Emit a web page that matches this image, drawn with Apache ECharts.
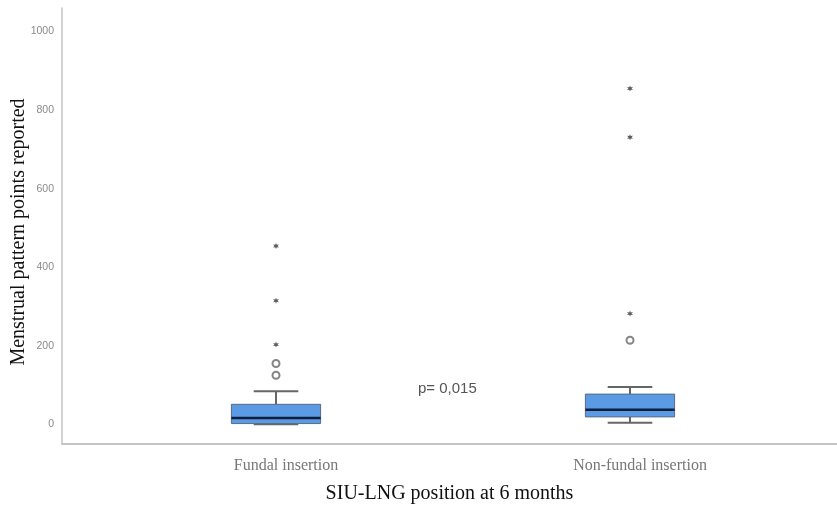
<!DOCTYPE html>
<html>
<head>
<meta charset="utf-8">
<script src="https://cdn.jsdelivr.net/npm/echarts@6/dist/echarts.min.js"></script>
<style>html,body{margin:0;padding:0;background:#fff;}#c{width:837px;height:508px;}</style>
</head>
<body>
<div id="c"></div>
<script>
// ---- data ----
const categories = ['Fundal insertion', 'Non-fundal insertion'];
// [low whisker, Q1, median, Q3, high whisker]
const fundalBox = [0, 2, 16, 51, 84];
const nonFundalBox = [4, 19, 37, 77, 95];
// outliers: circles (mild) and stars (extreme)
const fundalCircles = [125, 155];
const fundalStars = [203, 315, 454];
const nonFundalCircles = [214];
const nonFundalStars = [282, 731, 855];
const yTickLabels = [0, 200, 400, 600, 800, 1000];
const pValueText = 'p= 0,015';

// star symbol path
function starPath(n, r1, r2) {
  let d = '';
  for (let i = 0; i < n * 2; i++) {
    const r = i % 2 === 0 ? r1 : r2;
    const a = Math.PI * i / n - Math.PI / 2;
    d += (i === 0 ? 'M' : 'L') + (r * Math.cos(a)).toFixed(2) + ' ' + (r * Math.sin(a)).toFixed(2) + ' ';
  }
  return 'path://' + d + 'Z';
}
const starSym = starPath(6, 10, 4.5);

const boxData = [[0].concat(fundalBox), [1].concat(nonFundalBox)];
const circleData = fundalCircles.map(v => [0, v]).concat(nonFundalCircles.map(v => [1, v]));
const starData = fundalStars.map(v => [0, v]).concat(nonFundalStars.map(v => [1, v]));

const chart = echarts.init(document.getElementById('c'));
const yCommon = { type: 'value', min: -50, max: 1060, interval: 50 };
chart.setOption({
  animation: false,
  backgroundColor: '#fff',
  grid: [
    { left: 62, right: 0, top: 8, bottom: 64, containLabel: false, outerBoundsMode: 'none' },
    { left: 99, right: 30, top: 8, bottom: 64, containLabel: false, outerBoundsMode: 'none' }
  ],
  xAxis: [
    {
      gridIndex: 0, type: 'value', min: 0, max: 1,
      axisLine: { show: true, onZero: false, lineStyle: { color: '#c4c4c4', width: 2 } },
      axisTick: { show: false }, axisLabel: { show: false }, splitLine: { show: false },
      name: 'SIU-LNG position at 6 months', nameLocation: 'middle', nameGap: 40,
      nameTextStyle: { fontFamily: 'Liberation Serif', fontSize: 20, color: '#111' }
    },
    {
      gridIndex: 1, type: 'category', data: categories,
      axisLine: { show: false }, axisTick: { show: false },
      axisLabel: { fontFamily: 'Liberation Serif', fontSize: 16, color: '#777', margin: 14, padding: [0, 0, 0, 20] }
    }
  ],
  yAxis: [
    Object.assign({}, yCommon, {
      gridIndex: 0,
      axisLine: { show: true, onZero: false, lineStyle: { color: '#c4c4c4', width: 1.5 } },
      axisTick: { show: false }, splitLine: { show: false },
      axisLabel: {
        fontFamily: 'Liberation Sans', fontSize: 10.5, color: '#8a8a8a', margin: 8,
        formatter: v => (yTickLabels.indexOf(v) >= 0 ? String(v) : '')
      },
      name: 'Menstrual pattern points reported', nameLocation: 'middle', nameGap: 33,
      nameMoveOverlap: false,
      nameTextStyle: { fontFamily: 'Liberation Serif', fontSize: 20, color: '#111', padding: [0, 12, 0, 0] }
    }),
    Object.assign({}, yCommon, {
      gridIndex: 1, show: false
    })
  ],
  series: [
    {
      type: 'custom', xAxisIndex: 1, yAxisIndex: 1, data: boxData,
      encode: { x: 0, y: [1, 2, 3, 4, 5] },
      renderItem: function (params, api) {
        const x = api.value(0);
        const pLow = api.coord([x, api.value(1)]);
        const pQ1 = api.coord([x, api.value(2)]);
        const pMed = api.coord([x, api.value(3)]);
        const pQ3 = api.coord([x, api.value(4)]);
        const pHigh = api.coord([x, api.value(5)]);
        const band = api.size([1, 0])[0];
        const bw = band * 0.252, cw = bw / 2, cx = pMed[0];
        const wStyle = { stroke: '#666', lineWidth: 2 };
        return {
          type: 'group',
          children: [
            { type: 'line', shape: { x1: cx, y1: pQ3[1], x2: cx, y2: pHigh[1] }, style: wStyle },
            { type: 'line', shape: { x1: cx, y1: pQ1[1], x2: cx, y2: pLow[1] }, style: wStyle },
            { type: 'line', shape: { x1: cx - cw / 2, y1: pHigh[1], x2: cx + cw / 2, y2: pHigh[1] }, style: wStyle },
            { type: 'line', shape: { x1: cx - cw / 2, y1: pLow[1], x2: cx + cw / 2, y2: pLow[1] }, style: wStyle },
            { type: 'rect', shape: { x: cx - bw / 2, y: pQ3[1], width: bw, height: pQ1[1] - pQ3[1] },
              style: { fill: '#5b9be6', stroke: '#5a6a80', lineWidth: 1 } },
            { type: 'line', shape: { x1: cx - bw / 2, y1: pMed[1], x2: cx + bw / 2, y2: pMed[1] },
              style: { stroke: '#0d1f3a', lineWidth: 2.5 } }
          ]
        };
      }
    },
    {
      type: 'scatter', xAxisIndex: 1, yAxisIndex: 1, data: circleData,
      symbol: 'emptyCircle', symbolSize: 7,
      itemStyle: { color: '#666', borderColor: '#666', borderWidth: 1.5 }
    },
    {
      type: 'scatter', xAxisIndex: 1, yAxisIndex: 1, data: starData,
      symbol: starSym, symbolSize: 6,
      itemStyle: { color: '#333' }
    }
  ],
  graphic: [
    { type: 'text', left: 418, top: 381,
      style: { text: pValueText, fontFamily: 'Liberation Sans', fontSize: 15, fill: '#555' } }
  ]
});
</script>
</body>
</html>
